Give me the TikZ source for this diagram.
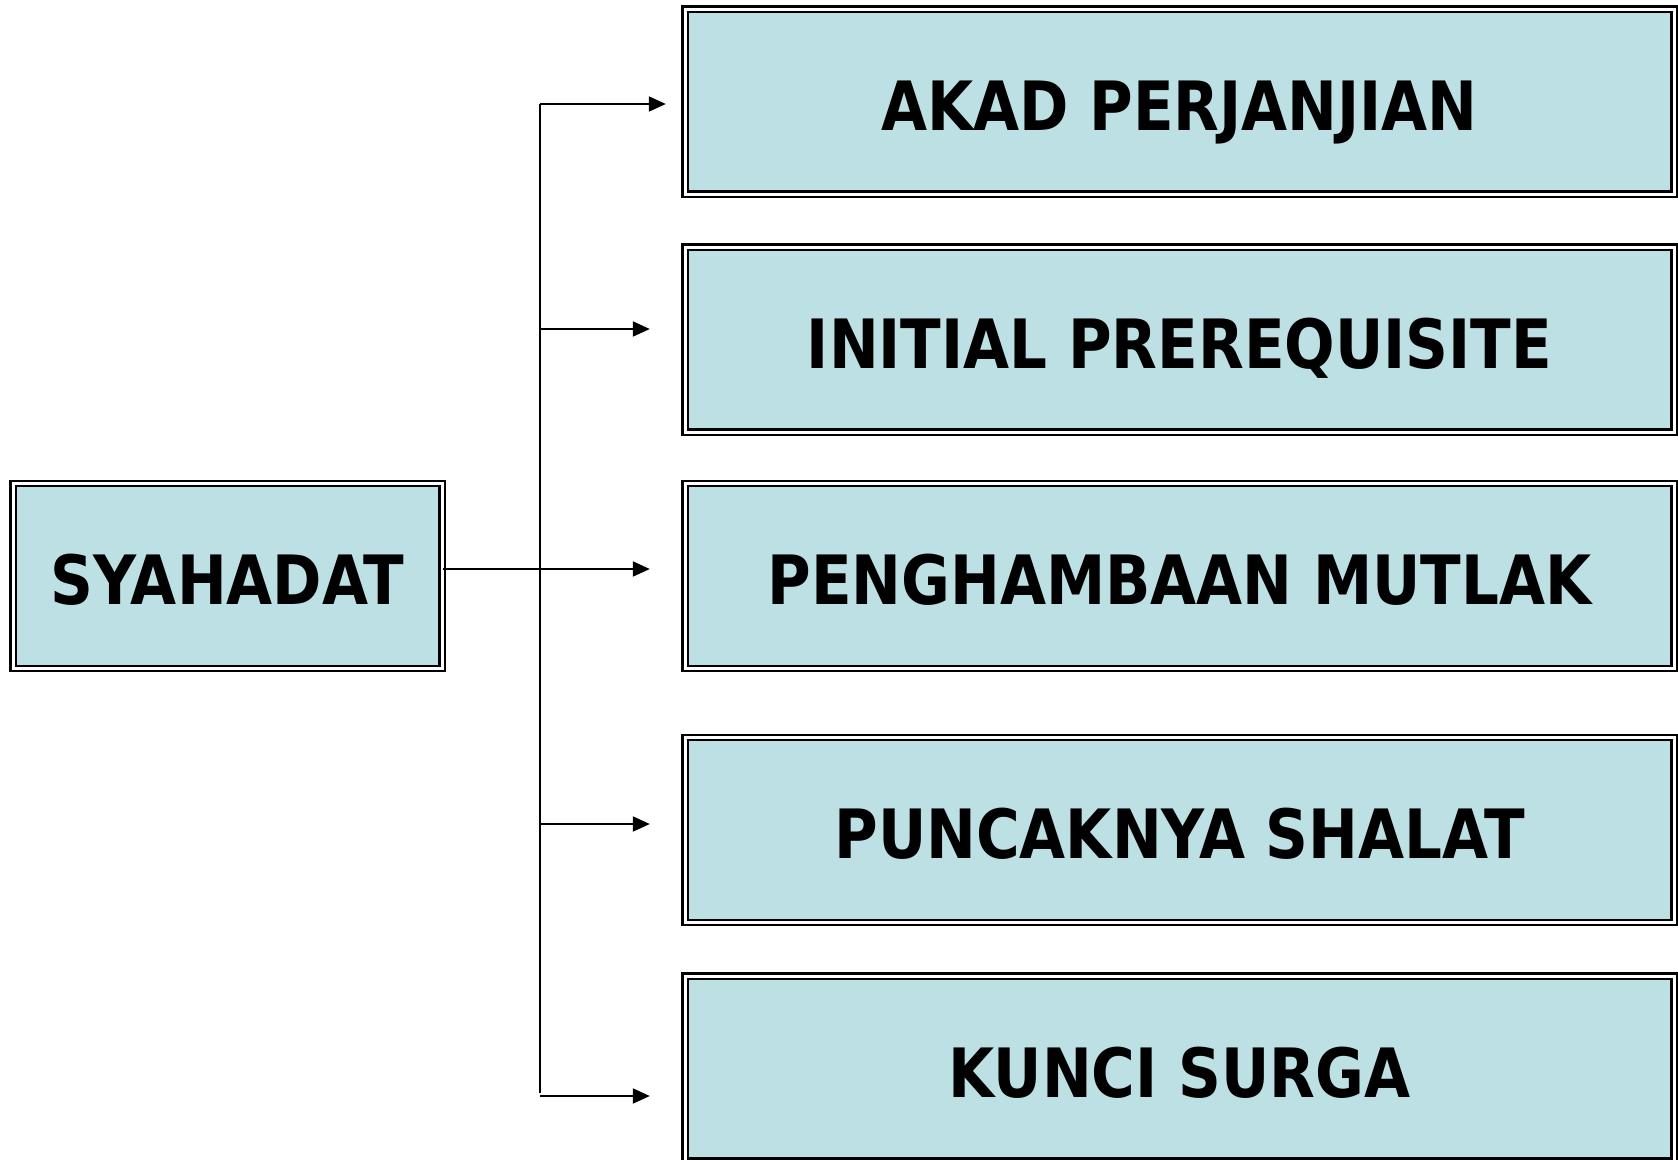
\documentclass[tikz,border=0pt]{standalone}
\usepackage{fontspec}
\newfontfamily\boxfont{DejaVu Sans}[FakeStretch=0.875]
\usetikzlibrary{arrows.meta}
\definecolor{boxfill}{RGB}{188,224,227}
\tikzset{
  frame/.style={draw=black, double=white, double distance=3pt, line width=2.4pt,
    fill=boxfill, inner sep=0pt, minimum height=185pt, text height=57pt, text depth=0pt,
    font=\boxfont\bfseries\fontsize{68}{80}\selectfont},
  link/.style={-{Triangle[length=17pt,width=15pt]}, line width=2pt}
}
\begin{document}
\begin{tikzpicture}[x=1pt,y=-1pt]
	\useasboundingbox (0,0) rectangle (1678,1159);

		\node[frame,minimum width=429pt] (S) at (227.5,576) {SYAHADAT};

		\node[frame,minimum width=989pt] (B1) at (1179.5,101.5) {AKAD PERJANJIAN};
		\node[frame,minimum width=989pt] (B2) at (1179.5,339.5) {INITIAL PREREQUISITE};
		\node[frame,minimum width=989pt] (B3) at (1179.5,576) {PENGHAMBAAN MUTLAK};
		\node[frame,minimum width=989pt] (B4) at (1179.5,830) {PUNCAKNYA SHALAT};
		\node[frame,minimum width=989pt] (B5) at (1179.5,1068.5) {KUNCI SURGA};

		\coordinate (T1) at (540,104);
		\coordinate (T2) at (540,329);
		\coordinate (T3) at (540,569);
		\coordinate (T4) at (540,824);
		\coordinate (T5) at (540,1096);
		\coordinate (Tend) at (540,1093);

		\draw[line width=2pt] (T1) -- (Tend);

		\draw[link,shorten >=18pt] (T1) -- (T1 -| B1.west);
		\draw[link,shorten >=34pt] (T2) -- (T2 -| B2.west);
		\draw[link,shorten >=34pt] (S.east |- T3) -- (T3 -| B3.west);
		\draw[link,shorten >=34pt] (T4) -- (T4 -| B4.west);
		\draw[link,shorten >=34pt] (T5) -- (T5 -| B5.west);

	\end{tikzpicture}
\end{document}
